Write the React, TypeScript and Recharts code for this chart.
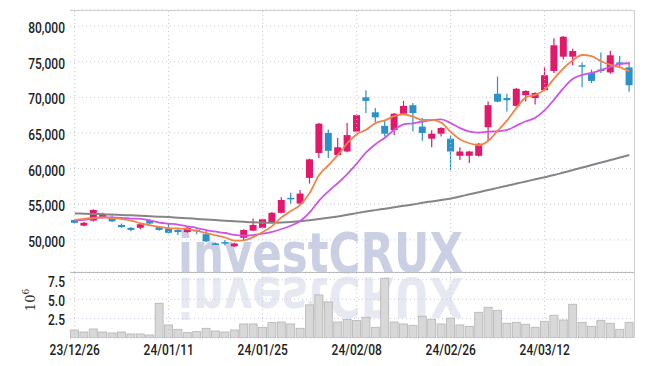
import { ComposedChart, Bar, Line, XAxis, YAxis, CartesianGrid, ReferenceLine } from 'recharts'

const dates = [
  '23/12/26', '23/12/27', '23/12/28', '24/01/02', '24/01/03', '24/01/04', '24/01/05', '24/01/08', '24/01/09', '24/01/10',
  '24/01/11', '24/01/12', '24/01/15', '24/01/16', '24/01/17', '24/01/18', '24/01/19', '24/01/22', '24/01/23', '24/01/24',
  '24/01/25', '24/01/26', '24/01/29', '24/01/30', '24/01/31', '24/02/01', '24/02/02', '24/02/05', '24/02/06', '24/02/07',
  '24/02/08', '24/02/13', '24/02/14', '24/02/15', '24/02/16', '24/02/19', '24/02/20', '24/02/21', '24/02/22', '24/02/23',
  '24/02/26', '24/02/27', '24/02/28', '24/02/29', '24/03/04', '24/03/05', '24/03/06', '24/03/07', '24/03/08', '24/03/11',
  '24/03/12', '24/03/13', '24/03/14', '24/03/15', '24/03/18', '24/03/19', '24/03/20', '24/03/21', '24/03/22', '24/03/25',
]

const opens = [
  52800, 52000, 52700, 53200, 53200, 52100, 51700, 51700, 52800, 51800,
  51600, 51400, 51100, 51400, 50800, 49500, 49700, 49100, 50300, 51300,
  51700, 52500, 53800, 55900, 55100, 58700, 62200, 65000, 61900, 62400,
  65200, 70000, 67900, 66000, 65400, 67700, 68900, 65900, 64200, 64900,
  64200, 61800, 61800, 61800, 65800, 70500, 69900, 68800, 70300, 69900,
  71000, 73700, 75700, 75700, 74500, 73400, 73900, 73500, 74900, 74200,
]
const highs = [
  52900, 52500, 54300, 53800, 53500, 52300, 51800, 52300, 52900, 51900,
  52300, 51500, 51800, 51500, 51400, 49600, 50000, 49600, 51500, 53000,
  53000, 53900, 56000, 56600, 57000, 61400, 66400, 65500, 64300, 66400,
  67600, 71000, 68500, 66700, 67800, 69500, 69200, 67100, 65400, 65800,
  64700, 63000, 62500, 63600, 69400, 72900, 70500, 71300, 71000, 70700,
  74300, 78300, 78600, 76800, 74900, 73900, 76300, 76550, 75800, 75000,
]
const lows = [
  52300, 51900, 52600, 53000, 52500, 51700, 51200, 51500, 52200, 51300,
  50900, 50700, 51000, 50800, 49700, 49300, 49200, 49000, 49900, 51200,
  51600, 52400, 53700, 55100, 55000, 57900, 61500, 61500, 61800, 62300,
  65100, 67800, 66500, 64500, 64700, 67600, 65200, 63900, 63000, 64500,
  59800, 61200, 60800, 61700, 63900, 69300, 68000, 68700, 69400, 69000,
  70900, 73400, 75300, 74500, 71400, 72000, 73400, 73300, 74300, 70800,
]
const closes = [
  52400, 52400, 54200, 53600, 52600, 51800, 51400, 52200, 52300, 51400,
  51000, 51100, 51700, 51200, 49800, 49400, 49600, 49500, 51400, 52100,
  52900, 53800, 55600, 55800, 56500, 61300, 66300, 62500, 63000, 64700,
  67500, 69500, 67200, 64900, 67700, 68800, 67800, 65000, 64900, 65700,
  62400, 62400, 62400, 63500, 68900, 69400, 69600, 71200, 70900, 70600,
  73100, 77300, 78500, 76500, 74300, 72300, 73700, 75900, 74800, 71700,
]

// moving averages (5, 10, 60 day)
const ma5 = [
  52800, 52950, 53100, 53150, 53040, 52920, 52720, 52320, 52060, 51820,
  51660, 51600, 51500, 51280, 50960, 50640, 50340, 49900, 49940, 50400,
  51100, 51940, 53160, 54040, 54920, 56600, 59100, 60480, 61920, 63560,
  64800, 65440, 66380, 66760, 67360, 67620, 67280, 66840, 66840, 66440,
  65160, 64080, 63560, 63280, 63920, 65320, 66760, 68520, 70000, 70340,
  71080, 72620, 74080, 75200, 75940, 75780, 75060, 74540, 74200, 73680,
]
const ma10 = [
  52700, 52800, 53000, 53150, 53150, 53100, 53000, 52950, 52750, 52430,
  52290, 52160, 51910, 51670, 51390, 51150, 50970, 50700, 50610, 50680,
  50870, 51140, 51530, 51990, 52660, 53850, 55520, 56820, 57980, 59240,
  60700, 62270, 63430, 64340, 65460, 66210, 66360, 66610, 66800, 66900,
  66390, 65680, 65200, 65060, 65180, 65240, 65420, 66040, 66640, 67130,
  68200, 69690, 71300, 72600, 73140, 73430, 73810, 74280, 74670, 74780,
]
const ma60 = [
  53700, 53680, 53650, 53600, 53550, 53500, 53450, 53400, 53330, 53260,
  53200, 53120, 53040, 52950, 52860, 52780, 52700, 52620, 52540, 52470,
  52430, 52420, 52450, 52520, 52620, 52760, 52920, 53100, 53300, 53520,
  53760, 53980, 54180, 54380, 54580, 54780, 54980, 55200, 55400, 55600,
  55800, 56100, 56400, 56700, 57000, 57300, 57600, 57900, 58200, 58500,
  58800, 59100, 59450, 59800, 60150, 60500, 60850, 61200, 61550, 61900,
]

const volumes = [
  1030000, 770000, 1160000, 770000, 650000, 770000, 520000, 520000, 390000, 4470000,
  1680000, 1120000, 690000, 820000, 1250000, 900000, 770000, 1030000, 1810000, 1810000,
  1380000, 1980000, 2060000, 1810000, 1250000, 4260000, 5550000, 4650000, 2060000, 2410000,
  2240000, 2670000, 1380000, 7700000, 2060000, 1810000, 1630000, 2800000, 2410000, 1810000,
  2540000, 1680000, 1510000, 3310000, 3960000, 3570000, 1900000, 2020000, 1770000, 1380000,
  2150000, 2930000, 2320000, 4350000, 2020000, 1510000, 2280000, 1900000, 1120000, 2020000,
]

const priceTicks = [50000, 55000, 60000, 65000, 70000, 75000, 80000]
const volumeTicks = [2500000, 5000000, 7500000]
const labelIdx = [0, 10, 20, 30, 40, 50]

const UP = '#e2196a'
const DOWN = '#2a92c9'
const FONT = "Roboto, 'Liberation Sans', sans-serif"
const GRID = '#c6c6da'

const data = dates.map((d, i) => ({
  date: d,
  range: [lows[i], highs[i]],
  open: opens[i],
  high: highs[i],
  low: lows[i],
  close: closes[i],
  ma5: ma5[i],
  ma10: ma10[i],
  ma60: ma60[i],
  volume: volumes[i],
}))

function Candle(props: any) {
  const { x, y, width, height, payload } = props
  if (!payload) return null
  const { open, close, high, low } = payload
  const top = Math.min(y, y + height)
  const h = Math.abs(height)
  const k = h / (high - low || 1)
  const cx = x + width / 2
  const color = close >= open ? UP : DOWN
  const bTop = top + (high - Math.max(open, close)) * k
  const bH = Math.max(1.5, Math.abs(open - close) * k)
  return (
    <g>
      <line x1={cx} x2={cx} y1={top} y2={top + h} stroke={color} strokeWidth={1.2} />
      <rect x={cx - 3.5} y={bTop} width={7} height={bH} fill={color} />
    </g>
  )
}

function VolBar(props: any) {
  const { x, y, width, height } = props
  const top = Math.min(y, y + height)
  return <rect x={x + 0.5} y={top} width={width - 1} height={Math.abs(height)} fill="#d8d8d8" stroke="#b4b4b4" strokeWidth={0.8} />
}

// narrow tick text: squeeze horizontally to mimic the condensed face
function YTick(props: any) {
  const { x, y, payload, fmt } = props
  return (
    <text transform={`translate(${x},${y + 1.5}) scale(0.8,1)`} textAnchor="end" dy="0.36em"
      fontFamily={FONT} fontWeight={500} fontSize={15} fill="#222">
      {fmt(payload.value)}
    </text>
  )
}

function XTick(props: any) {
  const { x, y, payload, index } = props
  if (index % 10 !== 0) return null
  return (
    <text transform={`translate(${x},${y}) scale(0.8,1)`} textAnchor="middle" dy="0.71em"
      fontFamily={FONT} fontWeight={500} fontSize={15} fill="#222">
      {payload.value}
    </text>
  )
}

const fmtPrice = (v: number) => v.toLocaleString('en-US')
const fmtVol = (v: number) => (v / 1e6).toFixed(1)

export default function App() {
  return (
    <div style={{ position: 'absolute', left: 0, top: 0, width: 645, height: 366, background: '#fff' }}>
      <svg width={645} height={366} style={{ position: 'absolute', left: 0, top: 0 }}>
        <text id="wm" x={178} y={272} fontFamily="'DejaVu Sans', sans-serif" fontWeight="bold" fontSize={56}
          textLength={285} lengthAdjust="spacingAndGlyphs" fill="#cbcfe3">investCRUX</text>
        {/* mirrored reflection under the watermark */}
        <use href="#wm" transform="translate(0,550) scale(1,-1)" opacity={0.45} />
        <line x1={70} x2={634} y1={10.5} y2={10.5} stroke="#cfcfcf" />
        <line x1={634.5} x2={634.5} y1={10} y2={338} stroke="#cfcfcf" />
        <line x1={70} x2={634} y1={272.5} y2={272.5} stroke="#b8b8b8" />
        <text transform="translate(35,300) rotate(-90)" textAnchor="middle" fontFamily="'DejaVu Serif', serif" fontSize={13} fill="#333">
          10<tspan dy={-6} fontSize={9}>6</tspan>
        </text>
      </svg>

      <div style={{ position: 'absolute', left: 0, top: 0 }}>
        <ComposedChart width={645} height={272} data={data} margin={{ top: 10, right: 11, bottom: 0, left: 0 }} barCategoryGap={0} barGap={0}>
          <CartesianGrid horizontal vertical={false} stroke={GRID} strokeDasharray="1 3" />
          {labelIdx.map((i) => (
            <ReferenceLine key={i} x={dates[i]} stroke={GRID} strokeDasharray="1 3" />
          ))}
          <XAxis dataKey="date" hide />
          <YAxis domain={[45500, 82250]} ticks={priceTicks} interval={0} allowDataOverflow width={70} axisLine={false} tickLine={false}
            tickSize={0} tickMargin={5} tick={<YTick fmt={fmtPrice} />} />
          <Bar dataKey="range" shape={<Candle />} isAnimationActive={false} />
          <Line type="monotone" dataKey="ma60" stroke="#858585" strokeWidth={2} dot={false} isAnimationActive={false} />
          <Line type="monotone" dataKey="ma10" stroke="#cc55e6" strokeWidth={1.8} dot={false} isAnimationActive={false} />
          <Line type="monotone" dataKey="ma5" stroke="#f0854a" strokeWidth={1.8} dot={false} isAnimationActive={false} />
        </ComposedChart>
      </div>

      <div style={{ position: 'absolute', left: 0, top: 272 }}>
        <ComposedChart width={645} height={94} data={data} margin={{ top: 0, right: 11, bottom: 0, left: 0 }} barCategoryGap={0} barGap={0}>
          <CartesianGrid horizontal vertical={false} stroke={GRID} strokeDasharray="1 3" />
          {labelIdx.map((i) => (
            <ReferenceLine key={i} x={dates[i]} stroke={GRID} strokeDasharray="1 3" />
          ))}
          <XAxis dataKey="date" height={28} interval={0} axisLine={false} tickLine={false} tickSize={0} tickMargin={6}
            tick={<XTick />} />
          <YAxis domain={[0, 8500000]} ticks={volumeTicks} interval={0} allowDataOverflow width={70} axisLine={false} tickLine={false}
            tickSize={0} tickMargin={5} tick={<YTick fmt={fmtVol} />} />
          <Bar dataKey="volume" shape={<VolBar />} isAnimationActive={false} />
        </ComposedChart>
      </div>
    </div>
  )
}
